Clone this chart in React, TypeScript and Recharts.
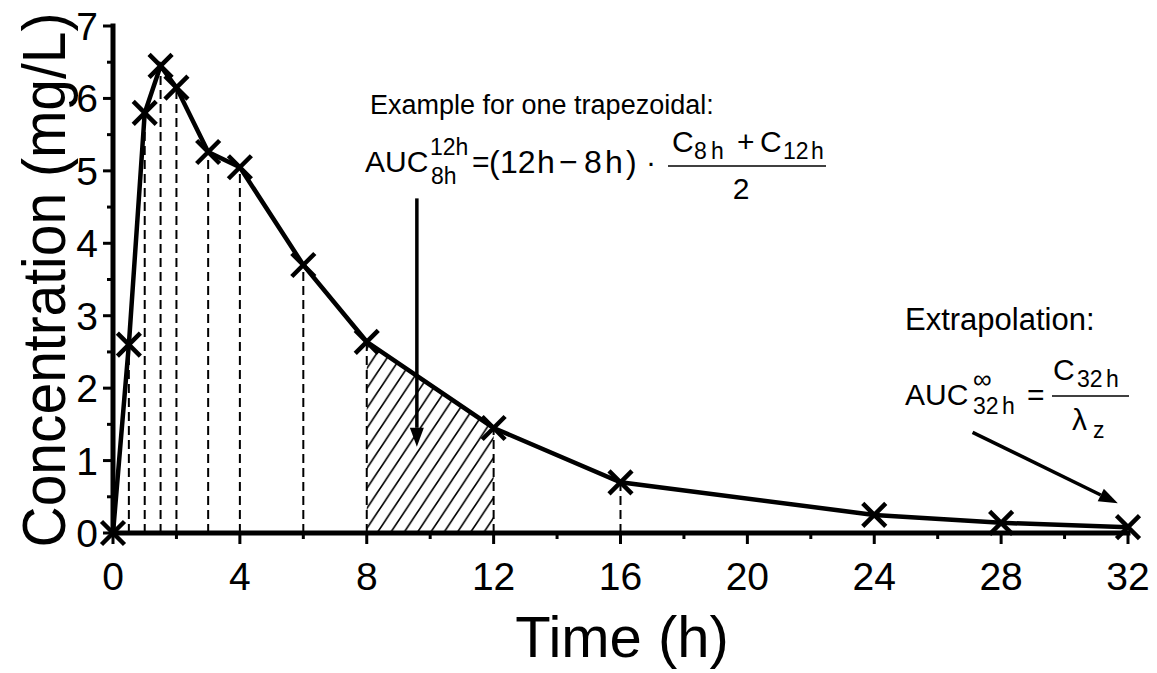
import React from 'react';
import { ComposedChart, Line, Area, XAxis, YAxis, ReferenceLine } from 'recharts';

// sampling times (h) and measured concentrations (mg/L)
const timeH = [0, 0.5, 1, 1.5, 2, 3, 4, 6, 8, 12, 16, 24, 28, 32];
const concMgL = [0, 2.6, 5.8, 6.45, 6.15, 5.26, 5.05, 3.7, 2.64, 1.45, 0.7, 0.25, 0.14, 0.08];

// times that get a dashed drop line down to the axis
const dropTimes = [0.5, 1, 1.5, 2, 3, 4, 6, 8, 12, 16];

// the one trapezoid that is hatched (8h -> 12h)
const trapStart = 8;
const trapEnd = 12;

const xTicks = [0, 2, 4, 6, 8, 10, 12, 14, 16, 18, 20, 22, 24, 26, 28, 30, 32];
const yTicks = [0, 0.5, 1, 1.5, 2, 2.5, 3, 3.5, 4, 4.5, 5, 5.5, 6, 6.5, 7];

// annotation arrows, in data units
const trapArrow = [{ x: 9.58, y: 4.62 }, { x: 9.58, y: 1.19 }];
const extrapArrow = [{ x: 27.1, y: 1.39 }, { x: 31.68, y: 0.41 }];

const W = 1157;
const H = 673;
const FONT = '"Liberation Sans", Arial, Helvetica, sans-serif';

const data = timeH.map((t, i) => ({ t, c: concMgL[i] }));
const concAt = (t: number) => concMgL[timeH.indexOf(t)];
const domainMax = timeH[timeH.length - 1];

const renderXTick = (props: any) => {
  const { x, y, payload } = props;
  const major = payload.value % 4 === 0;
  return (
    <g>
      <line x1={x} x2={x} y1={y} y2={y + (major ? 11 : 6)} stroke="#000" strokeWidth={3} />
      {major && (
        <text x={x} y={y + 57} textAnchor="middle" fontSize={39} fontFamily={FONT} fill="#000">
          {payload.value}
        </text>
      )}
    </g>
  );
};

const renderYTick = (props: any) => {
  const { x, y, payload } = props;
  const major = Number.isInteger(payload.value);
  return (
    <g>
      <line x1={x} x2={x - (major ? 10 : 6)} y1={y} y2={y} stroke="#000" strokeWidth={3} />
      {major && (
        <text x={x - 15} y={y + 14} textAnchor="end" fontSize={39} fontFamily={FONT} fill="#000">
          {payload.value}
        </text>
      )}
    </g>
  );
};

const renderCross = (props: any) => {
  const { cx, cy, index } = props;
  const s = 11.5;
  return (
    <path
      key={`x-${index}`}
      d={`M${cx - s},${cy - s}L${cx + s},${cy + s}M${cx - s},${cy + s}L${cx + s},${cy - s}`}
      stroke="#000"
      strokeWidth={4.5}
      fill="none"
    />
  );
};

const renderArrow = (props: any) => {
  const { x1, y1, x2, y2 } = props;
  const ang = Math.atan2(y2 - y1, x2 - x1);
  const len = 19;
  const half = 7;
  const bx = x2 - len * Math.cos(ang);
  const by = y2 - len * Math.sin(ang);
  const nx = -Math.sin(ang) * half;
  const ny = Math.cos(ang) * half;
  return (
    <g>
      <line x1={x1} y1={y1} x2={bx} y2={by} stroke="#000" strokeWidth={3.5} />
      <polygon points={`${x2},${y2} ${bx + nx},${by + ny} ${bx - nx},${by - ny}`} fill="#000" />
    </g>
  );
};

const txt = { fontFamily: FONT, fill: '#000' };

const Annotations = () => (
  <svg width={W} height={H} style={{ position: 'absolute', left: 0, top: 0, pointerEvents: 'none' }}>
    {/* axis titles */}
    <text x={622} y={657} textAnchor="middle" fontSize={58} {...txt}>Time (h)</text>
    <text
      x={65}
      y={280}
      textAnchor="middle"
      fontSize={62}
      textLength={535}
      lengthAdjust="spacingAndGlyphs"
      transform="rotate(-90 65 280)"
      {...txt}
    >
      Concentration (mg/L)
    </text>

    {/* trapezoid example */}
    <text x={370} y={114} fontSize={27} {...txt}>Example for one trapezoidal:</text>
    <text x={365} y={172} fontSize={30} {...txt}>AUC</text>
    <text x={430} y={155} fontSize={23} {...txt}>12h</text>
    <text x={431} y={184} fontSize={23} {...txt}>8h</text>
    <text x={472} y={172} fontSize={30} {...txt}>=</text>
    <text x={489} y={173} fontSize={32} {...txt}>
      <tspan>(</tspan>
      <tspan x={500}>12</tspan>
      <tspan x={537}>h</tspan>
      <tspan x={559}>−</tspan>
      <tspan x={584}>8</tspan>
      <tspan x={605}>h</tspan>
      <tspan x={626}>)</tspan>
    </text>
    <text x={646} y={172} fontSize={30} {...txt}>·</text>
    <line x1={668} x2={826} y1={166} y2={166} stroke="#000" strokeWidth={1.5} />
    <text x={672} y={152} fontSize={30} {...txt}>C</text>
    <text x={694} y={159} fontSize={23} {...txt}>
      <tspan>8</tspan>
      <tspan x={711}>h</tspan>
    </text>
    <text x={737} y={152} fontSize={30} {...txt}>+</text>
    <text x={760} y={152} fontSize={30} {...txt}>C</text>
    <text x={783} y={159} fontSize={23} {...txt}>
      <tspan>12</tspan>
      <tspan x={811}>h</tspan>
    </text>
    <text x={741} y={199} fontSize={30} textAnchor="middle" {...txt}>2</text>

    {/* extrapolation */}
    <text x={905} y={330} fontSize={31} {...txt}>Extrapolation:</text>
    <text x={905} y={405} fontSize={30} {...txt}>AUC</text>
    <text x={973} y={388} fontSize={26} {...txt}>∞</text>
    <text x={973} y={414} fontSize={23} {...txt}>
      <tspan>32</tspan>
      <tspan x={1002}>h</tspan>
    </text>
    <text x={1027} y={405} fontSize={30} {...txt}>=</text>
    <line x1={1052} x2={1129} y1={396} y2={396} stroke="#000" strokeWidth={1.5} />
    <text x={1053} y={380} fontSize={30} {...txt}>C</text>
    <text x={1077} y={387} fontSize={23} {...txt}>
      <tspan>32</tspan>
      <tspan x={1106}>h</tspan>
    </text>
    <text x={1072} y={430} fontSize={30} {...txt}>λ</text>
    <text x={1093} y={438} fontSize={23} {...txt}>z</text>
  </svg>
);

export default function App() {
  return (
    <div style={{ position: 'absolute', left: 0, top: 0, width: W, height: H, background: '#fff' }}>
      <style>{`.recharts-area-area { clip-path: url(#trapClip); }`}</style>
      <svg width={0} height={0} style={{ position: 'absolute' }}>
        <defs>
          <pattern id="hatch" patternUnits="userSpaceOnUse" width={13.3} height={20}>
            <path
              d="M-1,21.5 L14.3,-1.5 M12.3,21.5 L14.3,18.5 M-1,1.5 L1,-1.5"
              stroke="#000"
              strokeWidth={1.6}
            />
          </pattern>
          <clipPath id="trapClip" clipPathUnits="objectBoundingBox">
            <rect x={trapStart / domainMax} y={0} width={(trapEnd - trapStart) / domainMax} height={1} />
          </clipPath>
        </defs>
      </svg>
      <ComposedChart width={W} height={H} data={data} margin={{ top: 26, right: 29, bottom: 0, left: 0 }}>
        <XAxis
          dataKey="t"
          type="number"
          domain={[0, 32]}
          ticks={xTicks}
          interval={0}
          tick={renderXTick}
          tickLine={false}
          tickSize={0}
          tickMargin={0}
          axisLine={{ stroke: '#000', strokeWidth: 5, strokeLinecap: 'square' }}
          height={140}
        />
        <YAxis
          type="number"
          domain={[0, 7]}
          ticks={yTicks}
          interval={0}
          tick={renderYTick}
          tickLine={false}
          tickSize={0}
          tickMargin={0}
          axisLine={{ stroke: '#000', strokeWidth: 5, strokeLinecap: 'square' }}
          width={113}
        />
        <Area
          dataKey="c"
          type="linear"
          stroke="none"
          fill="url(#hatch)"
          fillOpacity={1}
          isAnimationActive={false}
        />
        {dropTimes.map((t) => (
          <ReferenceLine
            key={t}
            segment={[{ x: t, y: 0 }, { x: t, y: concAt(t) }]}
            stroke="#000"
            strokeWidth={2}
            strokeDasharray="9 5"
          />
        ))}
        <Line
          dataKey="c"
          type="linear"
          stroke="#000"
          strokeWidth={4.5}
          dot={renderCross}
          activeDot={false}
          isAnimationActive={false}
        />
        <ReferenceLine segment={trapArrow} shape={renderArrow} />
        <ReferenceLine segment={extrapArrow} shape={renderArrow} />
      </ComposedChart>
      <Annotations />
    </div>
  );
}
